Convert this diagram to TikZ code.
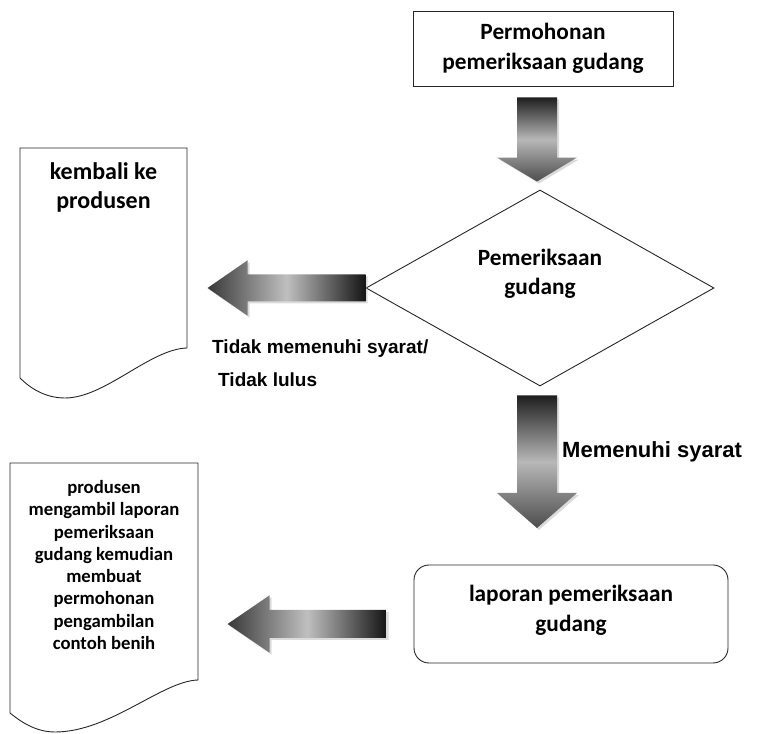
\documentclass[tikz,border=0pt]{standalone}
\usepackage{fontspec}
\setmainfont{Carlito}
\newfontfamily\arialfont{Liberation Sans}
\usetikzlibrary{calc,shapes.geometric,shadows}
\newcommand\downfat[5]{%
  \path[fatshadow,#5] let \p1=(#1), \p2=(#2) in
    (\x1-#3pt,\y1) -- (\x1+#3pt,\y1) -- (\x1+#3pt,\y2+#4) -- (\x1+2*#3pt,\y2+#4)
    -- (\x1,\y2) -- (\x1-2*#3pt,\y2+#4) -- (\x1-#3pt,\y2+#4) -- cycle;}
\newcommand\leftfat[5]{%
  \path[fatshadow,#5] let \p1=(#1), \p2=(#2) in
    (\x1,\y1-#3pt) -- (\x1,\y1+#3pt) -- (\x2+#4,\y1+#3pt) -- (\x2+#4,\y1+2.05*#3pt)
    -- (\x2,\y1) -- (\x2+#4,\y1-2.05*#3pt) -- (\x2+#4,\y1-#3pt) -- cycle;}
\begin{document}
\begin{tikzpicture}[x=1pt,y=1pt,
  outline/.style={draw=black!85, line width=0.9pt},
  box/.style={outline, align=center, inner sep=0pt, font=\bfseries\fontsize{23.3}{30}\selectfont},
  plaintext/.style={align=center, inner sep=0pt},
  labeltext/.style={inner sep=0pt, align=left, anchor=west},
  fatshadow/.style={drop shadow={shadow xshift=2pt, shadow yshift=-2pt, fill=black!40, opacity=0.35}},
  vshade/.style={top color=black!88, bottom color=black!70, middle color=black!28},
  hshade/.style={left color=black!78, right color=black!92, middle color=black!25}]
\useasboundingbox (0,0) rectangle (757,733);

% nodes
\node[box, minimum width=260, minimum height=75] (req) at (543,684.5) {Permohonan\\pemeriksaan gudang};
\node[outline, shape=diamond, minimum width=348, minimum height=196, inner sep=0pt] (dia) at (540,445) {};
\node[plaintext, font=\bfseries\fontsize{23.3}{29}\selectfont] (diatext) at (540,459) {Pemeriksaan\\gudang};
\node[outline, rounded corners=15pt, minimum width=314, minimum height=98, inner sep=0pt] (rep) at (571,119) {};
\node[plaintext, font=\bfseries\fontsize{23.3}{30}\selectfont] (reptext) at (571,123) {laporan pemeriksaan\\gudang};

% document shapes
\draw[outline] (20,585) -- (187,585) -- (187,385)
  .. controls (150,384) and (105,335) .. (65,335)
  .. controls (45,335) and (30,345) .. (20,355) -- cycle;
\node[plaintext, font=\bfseries\fontsize{24}{29}\selectfont] (d1) at (103.5,545.5) {kembali ke\\produsen};

\draw[outline] (10,270) -- (198,270) -- (198,53)
  .. controls (162,52) and (110,1) .. (55,1)
  .. controls (35,1) and (20,12) .. (10,20) -- cycle;
\node[plaintext, font=\bfseries\fontsize{18.7}{22.3}\selectfont] (d2) at (104,168)
  {produsen\\mengambil laporan\\pemeriksaan\\gudang kemudian\\membuat\\permohonan\\pengambilan\\contoh benih};

% labels
\node[labeltext, font=\arialfont\bfseries\fontsize{19}{33}\selectfont] (lblno) at (212,369.5)
  {Tidak memenuhi syarat/\\\hspace*{6pt}Tidak lulus};
\node[labeltext, font=\arialfont\bfseries\fontsize{22}{26}\selectfont] (lblyes) at (562,281) {Memenuhi syarat};

% arrow end points
\coordinate (a1s) at ($(req.south)+(-6,-11)$);
\coordinate (a1t) at ($(dia.north)+(-3,8)$);
\coordinate (a2s) at ($(dia.south)+(-3,-9)$);
\coordinate (a2t) at (537,205);
\coordinate (a3s) at (dia.west);
\coordinate (a3t) at ($(dia.west)+(-158,0)$);
\coordinate (a4s) at ($(rep.west)+(-27,-10)$);
\coordinate (a4t) at ($(rep.west)+(-186,-10)$);

% fat arrows
\downfat{a1s}{a1t}{20}{24}{vshade}
\downfat{a2s}{a2t}{20}{35}{vshade}
\leftfat{a3s}{a3t}{13.5}{40}{hshade}
\leftfat{a4s}{a4t}{14}{42}{hshade}
\end{tikzpicture}
\end{document}
